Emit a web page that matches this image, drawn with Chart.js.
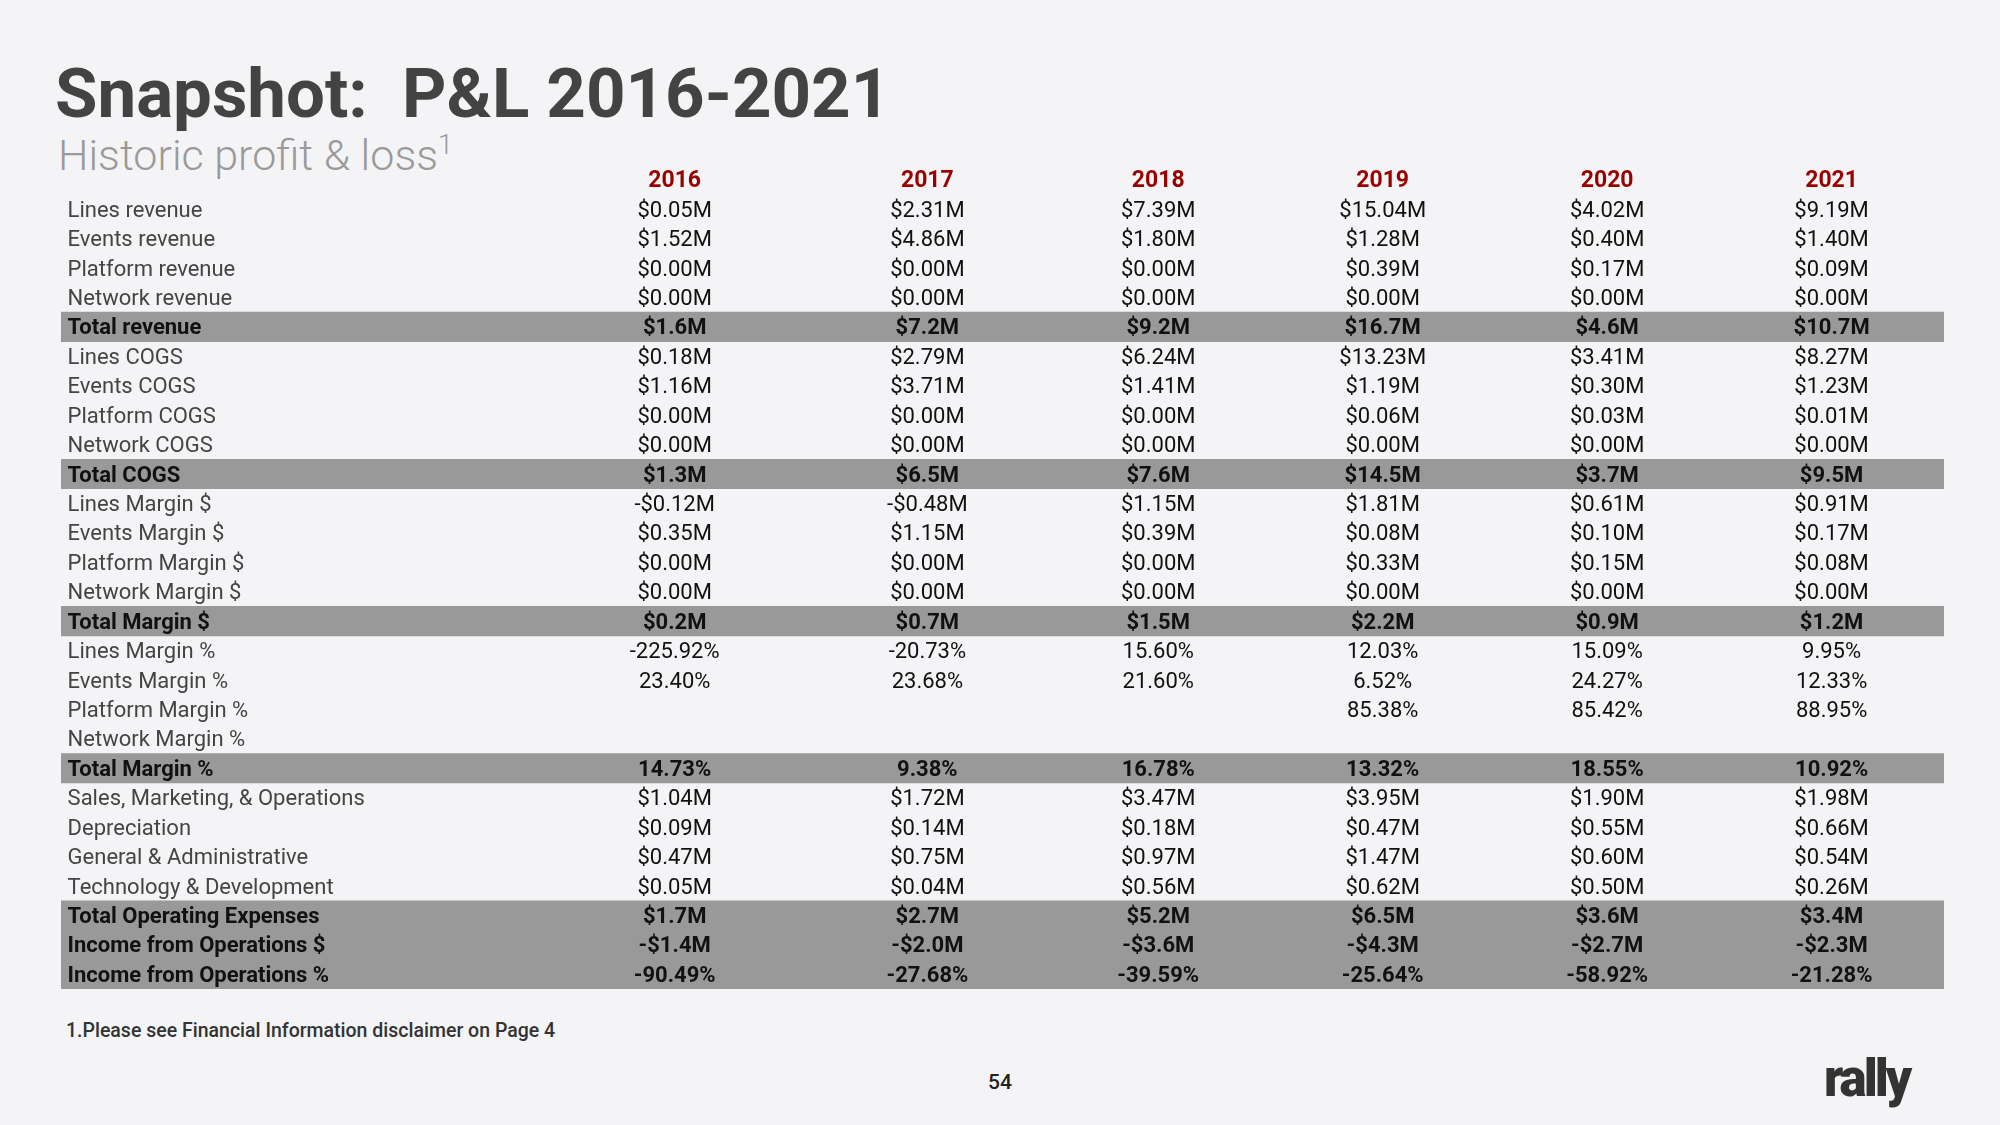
<!DOCTYPE html>
<html>
<head>
<meta charset="utf-8">
<script src="https://cdn.jsdelivr.net/npm/chart.js@4"></script>
<style>
  html, body { margin: 0; padding: 0; }
  body { width: 2000px; height: 1125px; background: #f4f4f6; position: relative; overflow: hidden; font-family: Roboto, sans-serif; }
  .abs { position: absolute; white-space: nowrap; line-height: 1; }
  #titulo { left: 55px; top: 59px; font-size: 69px; font-weight: 700; color: #434343; }
  #subtitulo { left: 58px; top: 132px; font-size: 43px; font-weight: 300; color: #9a9a9a; }
  #subtitulo sup { font-size: 27px; vertical-align: 16px; }
  #nota { left: 66px; top: 1021px; font-size: 19.5px; font-weight: 500; color: #333; }
  #pagina { left: 988px; top: 1072px; font-size: 21px; font-weight: 500; color: #222; }
  #logo { left: 1824px; top: 1053px; font-size: 51px; font-weight: 900; color: #333; letter-spacing: -3px; }
  #tabela { position: absolute; left: 61px; top: 165px; width: 1883px; height: 824px; }
</style>
</head>
<body>
<div class="abs" id="titulo">Snapshot:&nbsp; P&amp;L 2016-2021</div>
<div class="abs" id="subtitulo">Historic profit &amp; loss<sup>1</sup></div>
<div id="tabela"><canvas id="grafico"></canvas></div>
<div class="abs" id="nota">1.Please see Financial Information disclaimer on Page 4</div>
<div class="abs" id="pagina">54</div>
<div class="abs" id="logo">rally</div>

<script>
// anos (colunas)
const anos = ['2016', '2017', '2018', '2019', '2020', '2021'];

// linhas da tabela, valores em milhões ou em %
const linesRevenue = [0.05, 2.31, 7.39, 15.04, 4.02, 9.19];
const eventsRevenue = [1.52, 4.86, 1.80, 1.28, 0.40, 1.40];
const platformRevenue = [0.00, 0.00, 0.00, 0.39, 0.17, 0.09];
const networkRevenue = [0.00, 0.00, 0.00, 0.00, 0.00, 0.00];
const totalRevenue = [1.6, 7.2, 9.2, 16.7, 4.6, 10.7];
const linesCogs = [0.18, 2.79, 6.24, 13.23, 3.41, 8.27];
const eventsCogs = [1.16, 3.71, 1.41, 1.19, 0.30, 1.23];
const platformCogs = [0.00, 0.00, 0.00, 0.06, 0.03, 0.01];
const networkCogs = [0.00, 0.00, 0.00, 0.00, 0.00, 0.00];
const totalCogs = [1.3, 6.5, 7.6, 14.5, 3.7, 9.5];
const linesMargin = [-0.12, -0.48, 1.15, 1.81, 0.61, 0.91];
const eventsMargin = [0.35, 1.15, 0.39, 0.08, 0.10, 0.17];
const platformMargin = [0.00, 0.00, 0.00, 0.33, 0.15, 0.08];
const networkMargin = [0.00, 0.00, 0.00, 0.00, 0.00, 0.00];
const totalMargin = [0.2, 0.7, 1.5, 2.2, 0.9, 1.2];
const linesMarginPct = [-225.92, -20.73, 15.60, 12.03, 15.09, 9.95];
const eventsMarginPct = [23.40, 23.68, 21.60, 6.52, 24.27, 12.33];
const platformMarginPct = [null, null, null, 85.38, 85.42, 88.95];
const networkMarginPct = [null, null, null, null, null, null];
const totalMarginPct = [14.73, 9.38, 16.78, 13.32, 18.55, 10.92];
const salesMktOps = [1.04, 1.72, 3.47, 3.95, 1.90, 1.98];
const depreciation = [0.09, 0.14, 0.18, 0.47, 0.55, 0.66];
const generalAdmin = [0.47, 0.75, 0.97, 1.47, 0.60, 0.54];
const techDev = [0.05, 0.04, 0.56, 0.62, 0.50, 0.26];
const totalOpex = [1.7, 2.7, 5.2, 6.5, 3.6, 3.4];
const incomeOps = [-1.4, -2.0, -3.6, -4.3, -2.7, -2.3];
const incomeOpsPct = [-90.49, -27.68, -39.59, -25.64, -58.92, -21.28];

// [rótulo, valores, formato, negrito]
const linhas = [
  ['Lines revenue', linesRevenue, 'm2', false],
  ['Events revenue', eventsRevenue, 'm2', false],
  ['Platform revenue', platformRevenue, 'm2', false],
  ['Network revenue', networkRevenue, 'm2', false],
  ['Total revenue', totalRevenue, 'm1', true],
  ['Lines COGS', linesCogs, 'm2', false],
  ['Events COGS', eventsCogs, 'm2', false],
  ['Platform COGS', platformCogs, 'm2', false],
  ['Network COGS', networkCogs, 'm2', false],
  ['Total COGS', totalCogs, 'm1', true],
  ['Lines Margin $', linesMargin, 'm2', false],
  ['Events Margin $', eventsMargin, 'm2', false],
  ['Platform Margin $', platformMargin, 'm2', false],
  ['Network Margin $', networkMargin, 'm2', false],
  ['Total Margin $', totalMargin, 'm1', true],
  ['Lines Margin %', linesMarginPct, 'pct', false],
  ['Events Margin %', eventsMarginPct, 'pct', false],
  ['Platform Margin %', platformMarginPct, 'pct', false],
  ['Network Margin %', networkMarginPct, 'pct', false],
  ['Total Margin %', totalMarginPct, 'pct', true],
  ['Sales, Marketing, & Operations', salesMktOps, 'm2', false],
  ['Depreciation', depreciation, 'm2', false],
  ['General & Administrative', generalAdmin, 'm2', false],
  ['Technology & Development', techDev, 'm2', false],
  ['Total Operating Expenses', totalOpex, 'm1', true],
  ['Income from Operations $', incomeOps, 'm1', true],
  ['Income from Operations %', incomeOpsPct, 'pct', true]
];

// layout (eixo x em % da largura da tabela)
const posRotulo = 0.35;
const posColunas = [32.59, 46.01, 58.27, 70.19, 82.11, 94.03];

function formatar(v, tipo) {
  if (v === null) return '';
  if (tipo === 'pct') return v.toFixed(2) + '%';
  const casas = tipo === 'm1' ? 1 : 2;
  return (v < 0 ? '-' : '') + '$' + Math.abs(v).toFixed(casas) + 'M';
}

// categorias: cabeçalho + linhas
const categorias = ['cab'].concat(linhas.map(l => l[0]));
const faixas = [null].concat(linhas.map(l => l[3] ? [0, 100] : null));

const textoTabela = {
  id: 'textoTabela',
  afterDatasetsDraw(chart) {
    const ctx = chart.ctx;
    const x = chart.scales.x;
    const y = chart.scales.y;
    const ajuste = 2; // texto um pouco abaixo do centro da linha
    ctx.save();
    ctx.textBaseline = 'middle';

    // cabeçalho dos anos
    ctx.font = 'bold 23px Roboto';
    ctx.fillStyle = '#990000';
    ctx.textAlign = 'center';
    anos.forEach((ano, j) => {
      ctx.fillText(ano, x.getPixelForValue(posColunas[j]), y.getPixelForValue(0) + ajuste);
    });

    linhas.forEach((l, i) => {
      const py = y.getPixelForValue(i + 1) + ajuste;
      ctx.font = (l[3] ? 'bold ' : '') + '22px Roboto';
      ctx.fillStyle = l[3] ? '#111' : '#444';
      ctx.textAlign = 'left';
      ctx.fillText(l[0], x.getPixelForValue(posRotulo), py);
      ctx.fillStyle = '#111';
      ctx.textAlign = 'center';
      l[1].forEach((v, j) => {
        ctx.fillText(formatar(v, l[2]), x.getPixelForValue(posColunas[j]), py);
      });
    });
    ctx.restore();
  }
};

const grafico = new Chart(document.getElementById('grafico'), {
  type: 'bar',
  data: {
    labels: categorias,
    datasets: [{
      data: faixas,
      backgroundColor: '#999999',
      borderWidth: 0,
      barPercentage: 1,
      categoryPercentage: 1
    }]
  },
  options: {
    indexAxis: 'y',
    responsive: true,
    maintainAspectRatio: false,
    animation: false,
    layout: { padding: 0 },
    plugins: { legend: { display: false }, tooltip: { enabled: false } },
    scales: {
      x: { type: 'linear', min: 0, max: 100, display: false },
      y: { type: 'category', offset: true, display: false, grid: { display: false } }
    }
  },
  plugins: [textoTabela]
});
</script>
</body>
</html>
